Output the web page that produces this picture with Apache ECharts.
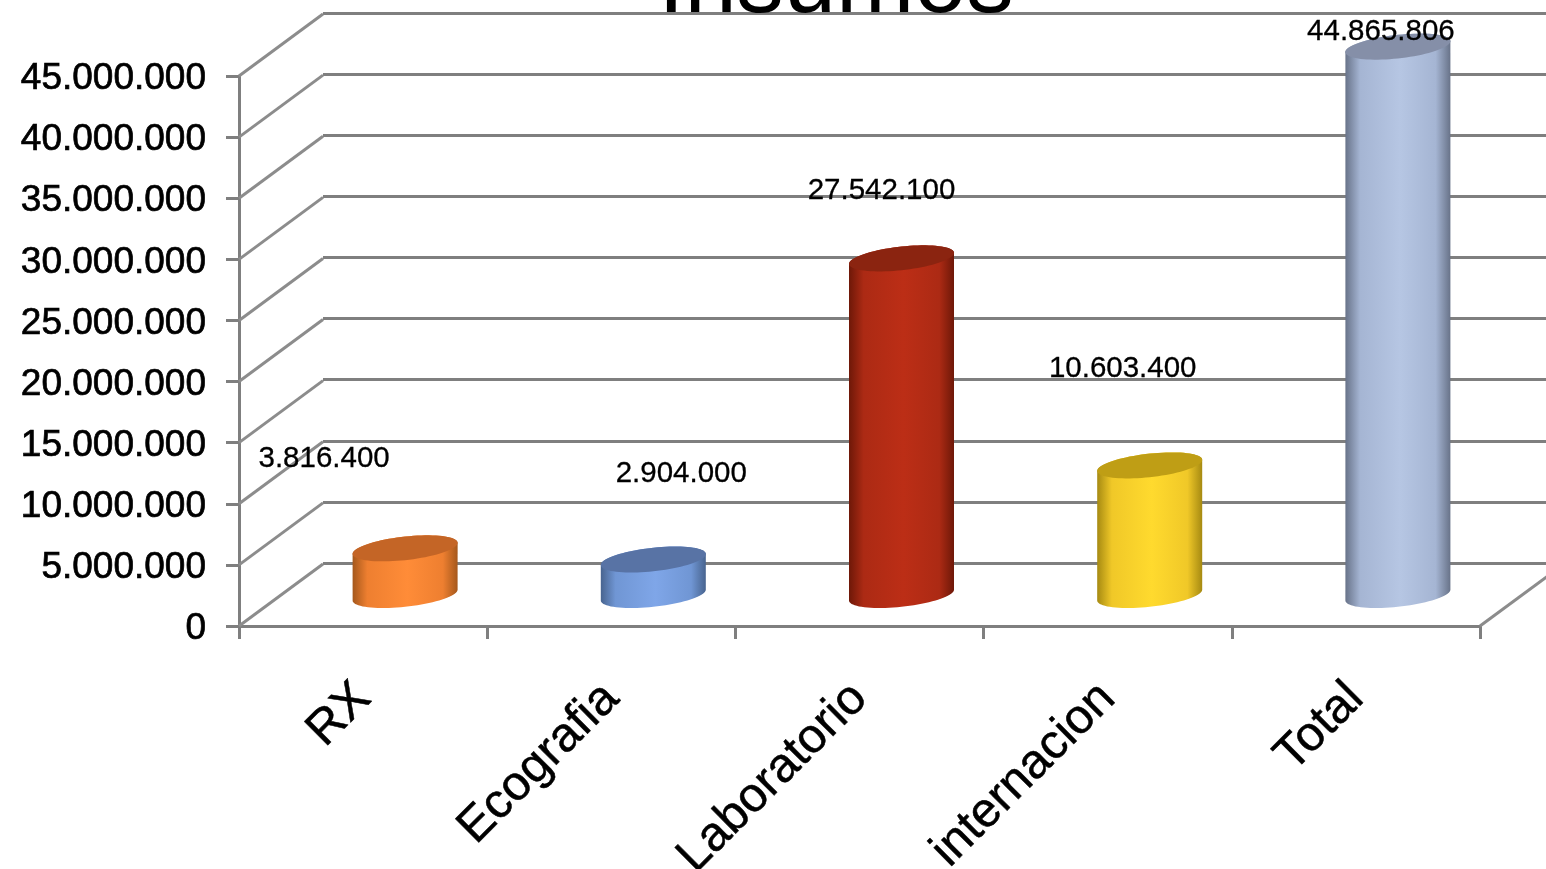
<!DOCTYPE html>
<html><head><meta charset="utf-8">
<style>html,body{margin:0;padding:0;background:#fff}#c{width:1546px;height:869px}</style>
<script src="https://cdn.jsdelivr.net/npm/echarts@6/dist/echarts.min.js"></script>
</head><body><div id="c"></div>
<script>
const titleText = 'Insumos';
const categories = ['RX', 'Ecografia', 'Laboratorio', 'internacion', 'Total'];
const values = [3816400, 2904000, 27542100, 10603400, 44865806];
const valueLabels = ['3.816.400', '2.904.000', '27.542.100', '10.603.400', '44.865.806'];
const yTicks = [0, 5000000, 10000000, 15000000, 20000000, 25000000, 30000000, 35000000, 40000000, 45000000];
const edgeColors = ['#A5581C', '#48648F', '#6E1808', '#A68A12', '#687389'];
const midColors = ['#EE7F30', '#7096D4', '#AC2A14', '#F0C828', '#A5B5D3'];
const lightColors = ['#FF8C38', '#7FA6E8', '#BC2E16', '#FFDA2E', '#B6C6E3'];
const capColors = ['#C46526', '#5873A5', '#8B2410', '#BF9E15', '#858FA8'];
const labelShift = [[-39, -120], [70, -117], [22, -99], [15, -128], [25, -46]];

const DEPTH_X = 84, DEPTH_Y = -62;
const RX = 52.5, RY = 11.8, SHEAR = 0.105;
const GRAY = '#7f7f7f';
const font = '"Liberation Sans", Arial, sans-serif';

function ell(cx, cy, t) {
  const dx = RX * Math.cos(t);
  return [cx + dx, cy + RY * Math.sin(t) - SHEAR * dx];
}
function arc(cx, cy, from, to, n) {
  const p = [];
  for (let i = 0; i <= n; i++) p.push(ell(cx, cy, from + (to - from) * i / n));
  return p;
}
function cylinder(params, api) {
  const i = api.value(0);
  const top = api.coord([i, api.value(1)]);
  const base = api.coord([i, 0]);
  const cx = top[0] + DEPTH_X / 2;
  const ty = top[1] + DEPTH_Y / 2;
  const by = base[1] + DEPTH_Y / 2;
  const bodyPts = arc(cx, by, 0, Math.PI, 40).concat(arc(cx, ty, Math.PI, 2 * Math.PI, 40));
  const grad = new echarts.graphic.LinearGradient(0, 0, 1, 0, [
    { offset: 0, color: edgeColors[i] },
    { offset: 0.14, color: midColors[i] },
    { offset: 0.52, color: lightColors[i] },
    { offset: 0.86, color: midColors[i] },
    { offset: 1, color: edgeColors[i] }
  ]);
  return {
    type: 'group',
    children: [
      { type: 'polygon', shape: { points: bodyPts }, style: { fill: grad } },
      { type: 'polygon', shape: { points: arc(cx, ty, 0, 2 * Math.PI, 80) }, style: { fill: capColors[i] } }
    ]
  };
}
function wallLine(params, api) {
  const p = api.coord([0, api.value(0)]);
  const halfBand = api.size([1, 0])[0] / 2;
  const x = p[0] - halfBand;
  return { type: 'line', shape: { x1: x, y1: p[1], x2: x + DEPTH_X, y2: p[1] + DEPTH_Y },
    style: { stroke: '#8c8c8c', lineWidth: 3 } };
}
function floorEnd(params, api) {
  const p = api.coord([categories.length - 1, 0]);
  const x = p[0] + api.size([1, 0])[0] / 2;
  return { type: 'line', shape: { x1: x, y1: p[1], x2: x + DEPTH_X, y2: p[1] + DEPTH_Y },
    style: { stroke: '#8c8c8c', lineWidth: 3 } };
}
function valueText(params, api) {
  const i = api.value(0);
  const p = api.coord([i, api.value(1)]);
  return { type: 'text', style: {
    x: p[0] + labelShift[i][0], y: p[1] + labelShift[i][1],
    text: valueLabels[i], fill: '#000', align: 'center', verticalAlign: 'middle',
    stroke: '#000', lineWidth: 0.3,
    font: '29.5px ' + font } };
}
const rows = values.map((v, i) => [i, v]);

const chart = echarts.init(document.getElementById('c'), null, { renderer: 'canvas' });
chart.setOption({
  animation: false,
  backgroundColor: '#fff',
  title: { text: titleText, left: 831, top: -66, textAlign: 'center',
    textStyle: { fontFamily: font, fontSize: 94, fontWeight: 'normal', color: '#000' } },
  grid: [
    { left: 239, top: 76, width: 1241, height: 550, outerBoundsMode: 'none' },
    { left: 323, top: 13, width: 1243, height: 550, outerBoundsMode: 'none' }
  ],
  xAxis: [
    { type: 'category', gridIndex: 0, data: categories,
      axisLine: { lineStyle: { color: GRAY, width: 3 } },
      axisTick: { show: true, length: 13, lineStyle: { color: GRAY, width: 3 } },
      axisLabel: { rotate: 45, interval: 0, fontFamily: font, fontSize: 48.5, color: '#000', margin: 65,
        textBorderColor: '#000', textBorderWidth: 0.5 },
      splitLine: { show: false } },
    { type: 'category', gridIndex: 1, data: categories, show: false }
  ],
  yAxis: [
    { type: 'value', gridIndex: 0, min: 0, max: 45000000, interval: 5000000,
      axisLine: { show: true, lineStyle: { color: GRAY, width: 3 } },
      axisTick: { show: true, length: 13, lineStyle: { color: GRAY, width: 3 } },
      splitLine: { show: false },
      axisLabel: { fontFamily: font, fontSize: 37, color: '#000', margin: 33,
        verticalAlign: 'top', lineHeight: 6,
        textBorderColor: '#000', textBorderWidth: 0.7,
        formatter: v => String(v).replace(/\B(?=(\d{3})+(?!\d))/g, '.') } },
    { type: 'value', gridIndex: 1, min: 0, max: 45000000, interval: 5000000,
      axisLine: { show: false }, axisTick: { show: false }, axisLabel: { show: false },
      splitLine: { show: true, lineStyle: { color: GRAY, width: 3 } } }
  ],
  series: [
    { type: 'custom', xAxisIndex: 0, yAxisIndex: 0, z: 1, silent: true, data: yTicks.map(v => [v]),
      encode: { y: 0 }, renderItem: wallLine },
    { type: 'custom', xAxisIndex: 0, yAxisIndex: 0, z: 1, silent: true, data: [[0]],
      encode: { y: 0 }, renderItem: floorEnd },
    { type: 'custom', name: 'Insumos', xAxisIndex: 0, yAxisIndex: 0, z: 3, data: rows,
      encode: { x: 0, y: 1 }, renderItem: cylinder },
    { type: 'custom', xAxisIndex: 0, yAxisIndex: 0, z: 5, silent: true, data: rows,
      encode: { x: 0, y: 1 }, renderItem: valueText }
  ]
});
</script></body></html>
